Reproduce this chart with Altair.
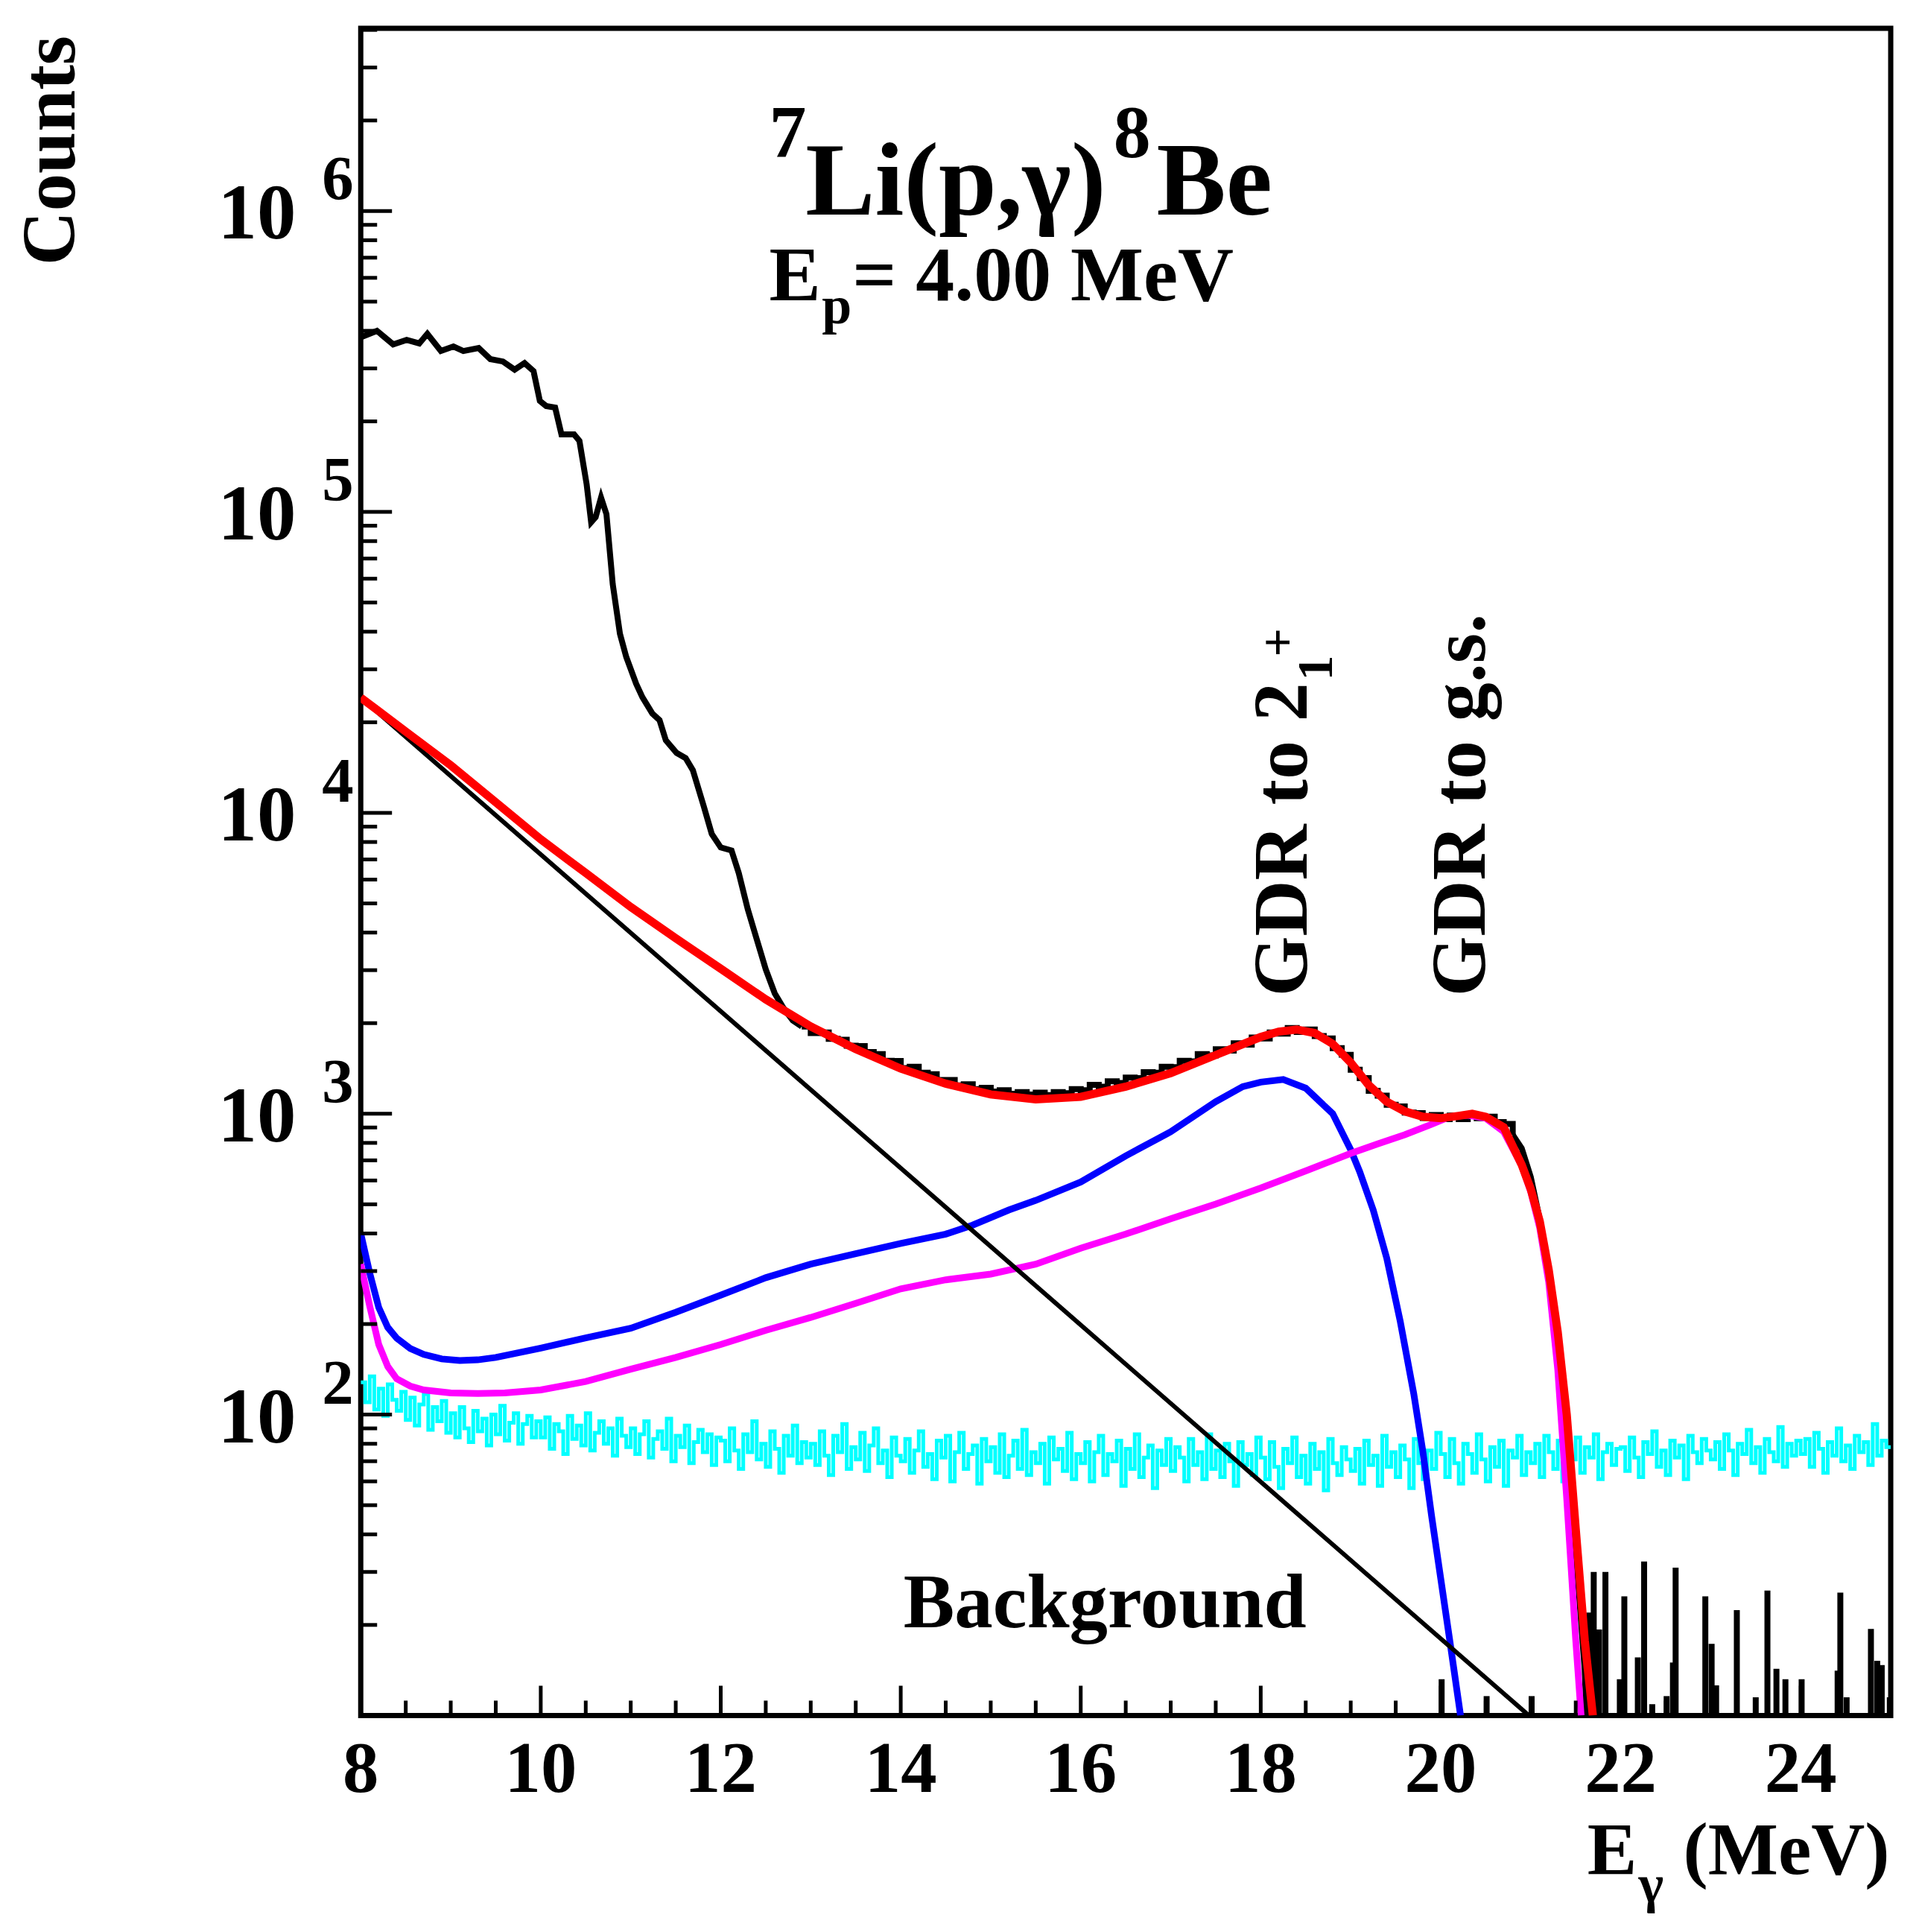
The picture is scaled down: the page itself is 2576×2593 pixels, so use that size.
import altair as alt
import pandas as pd

FONT = "Liberation Serif"

# ---------------- data (E in MeV) ----------------
# measured 7Li(p,g)8Be spectrum (black), log10(counts): steep low-energy part
spectrum_low = [
    (8.00, 5.59), (8.03, 5.584), (8.18, 5.602), (8.36, 5.557), (8.51, 5.572), (8.65, 5.56),
    (8.74, 5.592), (8.89, 5.535), (9.03, 5.55), (9.14, 5.535), (9.31, 5.545), (9.44, 5.508),
    (9.58, 5.50), (9.71, 5.473), (9.82, 5.495), (9.92, 5.468), (9.99, 5.369), (10.06, 5.352),
    (10.16, 5.347), (10.23, 5.258), (10.37, 5.258), (10.43, 5.236), (10.51, 5.092), (10.56, 4.966),
    (10.61, 4.983), (10.67, 5.048), (10.73, 4.993), (10.80, 4.76), (10.88, 4.595), (10.95, 4.518),
    (11.06, 4.429), (11.13, 4.384), (11.24, 4.33), (11.32, 4.308), (11.39, 4.241), (11.51, 4.199),
    (11.61, 4.182), (11.69, 4.142), (11.81, 4.023), (11.90, 3.93), (12.00, 3.885), (12.12, 3.875),
    (12.20, 3.80), (12.30, 3.68), (12.40, 3.58), (12.50, 3.48), (12.60, 3.40), (12.70, 3.35),
    (12.80, 3.31), (12.90, 3.29),
]
# plateau part, 0.1 MeV bins (left edges from 12.9 MeV), log10(counts)
plateau_E0, plateau_dE = 12.9, 0.1
plateau_log10 = [
    3.29, 3.268, 3.27, 3.249, 3.246, 3.226, 3.225, 3.205, 3.198, 3.176,
    3.175, 3.152, 3.156, 3.136, 3.131, 3.112, 3.112, 3.094, 3.098, 3.082,
    3.086, 3.074, 3.078, 3.066, 3.072, 3.064, 3.07, 3.062, 3.072, 3.068,
    3.082, 3.078, 3.096, 3.09, 3.108, 3.102, 3.12, 3.118, 3.138, 3.136,
    3.156, 3.155, 3.176, 3.174, 3.198, 3.194, 3.214, 3.21, 3.234, 3.23,
    3.253, 3.25, 3.27, 3.266, 3.285, 3.272, 3.28, 3.258, 3.25, 3.218,
    3.196, 3.146, 3.118, 3.076, 3.06, 3.03, 3.024, 3.004, 3.002, 2.986,
    2.996, 2.982, 2.994, 2.982, 2.997, 2.985, 2.99, 2.972, 2.966,
]
# falling edge, log10(counts)
spectrum_edge = [
    (20.8, 2.93), (20.9, 2.885), (21.0, 2.79), (21.1, 2.65), (21.2, 2.46), (21.3, 2.23),
    (21.4, 1.95), (21.5, 1.55), (21.6, 1.15), (21.62, 1.0),
]

# sparse high-energy bins of the spectrum (counts)
tail_E = [20.01, 20.51, 21.01, 21.65, 21.70, 21.76, 21.83, 21.99, 22.04, 22.19, 22.26, 22.35,
          22.51, 22.58, 22.61, 22.94, 23.01, 23.06, 23.29, 23.50, 23.63, 23.73, 23.83, 24.01,
          24.41, 24.44, 24.51, 24.78, 24.85, 24.90, 24.99]
tail_counts = [13.2, 11.6, 11.6, 22, 30, 19.3, 30, 13.2, 24.9, 15.6, 32.5, 10.9,
               11.6, 15, 31, 24.9, 17.3, 12.6, 22.4, 11.5, 26, 14.3, 13.2, 13.2,
               14.1, 25.6, 11.5, 19.4, 15.2, 14.7, 11.5]

# total fit (red), log10(counts)
fit_total = [
    (8.0, 4.383), (8.5, 4.27), (9.0, 4.158), (9.5, 4.035), (10.0, 3.912), (10.5, 3.80),
    (11.0, 3.687), (11.5, 3.583), (12.0, 3.482), (12.5, 3.38), (13.0, 3.29), (13.5, 3.215),
    (14.0, 3.15), (14.5, 3.10), (15.0, 3.064), (15.5, 3.048), (16.0, 3.056), (16.5, 3.09),
    (17.0, 3.135), (17.5, 3.195), (18.0, 3.255), (18.2, 3.273), (18.4, 3.28), (18.6, 3.268),
    (18.8, 3.232), (19.0, 3.17), (19.2, 3.095), (19.4, 3.04), (19.6, 3.008), (19.8, 2.99),
    (20.0, 2.985), (20.2, 2.993), (20.35, 3.0), (20.5, 2.99), (20.7, 2.955), (20.9, 2.83),
    (21.0, 2.75), (21.1, 2.643), (21.2, 2.48), (21.3, 2.274), (21.4, 2.0), (21.5, 1.62),
    (21.6, 1.25), (21.69, 1.0),
]

# GDR to 2_1^+ component (blue), log10(counts)
gdr_21 = [
    (8.0, 2.602), (8.1, 2.47), (8.2, 2.356), (8.3, 2.29), (8.4, 2.254), (8.55, 2.22),
    (8.7, 2.20), (8.9, 2.185), (9.1, 2.18), (9.3, 2.182), (9.5, 2.19), (10.0, 2.221),
    (10.5, 2.255), (11.0, 2.287), (11.5, 2.34), (12.0, 2.397), (12.5, 2.455), (13.0, 2.50),
    (13.5, 2.535), (14.0, 2.569), (14.5, 2.60), (14.8, 2.63), (15.2, 2.68), (15.5, 2.712),
    (16.0, 2.773), (16.5, 2.86), (17.0, 2.94), (17.5, 3.04), (17.8, 3.09), (18.0, 3.105),
    (18.25, 3.114), (18.5, 3.085), (18.8, 3.0), (19.0, 2.88), (19.1, 2.807), (19.25, 2.68),
    (19.4, 2.52), (19.55, 2.31), (19.7, 2.07), (19.8, 1.88), (19.9, 1.66), (20.0, 1.455),
    (20.1, 1.25), (20.22, 1.0),
]

# GDR to g.s. component (magenta), log10(counts)
gdr_gs = [
    (8.0, 2.50), (8.1, 2.36), (8.2, 2.233), (8.3, 2.16), (8.4, 2.119), (8.55, 2.095),
    (8.7, 2.082), (9.0, 2.072), (9.3, 2.07), (9.6, 2.072), (10.0, 2.082), (10.5, 2.11),
    (11.0, 2.151), (11.5, 2.19), (12.0, 2.233), (12.5, 2.28), (13.0, 2.323), (13.5, 2.37),
    (14.0, 2.418), (14.5, 2.448), (15.0, 2.467), (15.5, 2.50), (16.0, 2.553), (16.5, 2.60),
    (17.0, 2.651), (17.5, 2.70), (18.0, 2.753), (18.5, 2.81), (19.0, 2.868), (19.3, 2.90),
    (19.6, 2.93), (19.9, 2.965), (20.1, 2.99), (20.3, 2.995), (20.5, 2.985), (20.7, 2.94),
    (20.9, 2.827), (21.0, 2.74), (21.1, 2.62), (21.2, 2.44), (21.3, 2.15), (21.4, 1.72),
    (21.5, 1.25), (21.56, 1.0),
]

# exponential background (black straight line), counts at its end points
expbg_E = [8.0, 20.98]
expbg_counts = [24150, 10]

# measured room background (cyan), 0.05 MeV bins from 8 to 25 MeV
cyan_E0, cyan_dE = 8.0, 0.05
cyan_counts = [
    128, 110, 134, 104, 122, 99, 126, 112, 103, 119, 96, 114, 92, 108, 117, 89, 106, 95, 111, 87,
    101, 84, 106, 90, 81, 103, 88, 97, 79, 100, 86, 107, 82, 94, 101, 80, 93, 99, 84, 95,
    84, 98, 77, 93, 88, 74, 99, 83, 92, 79, 101, 76, 87, 95, 80, 90, 73, 97, 85, 78,
    90, 74, 86, 95, 72, 83, 88, 77, 97, 70, 85, 78, 92, 69, 81, 89, 75, 86, 68, 84,
    82, 70, 90, 76, 66, 86, 75, 95, 71, 80, 67, 88, 77, 64, 85, 73, 92, 69, 81, 72,
    80, 68, 88, 73, 63, 85, 75, 93, 66, 78, 71, 87, 65, 79, 90, 69, 76, 62, 84, 73,
    70, 83, 64, 76, 88, 67, 74, 61, 82, 72, 85, 60, 75, 87, 66, 74, 79, 59, 83, 70,
    78, 64, 86, 62, 73, 82, 66, 89, 63, 75, 69, 80, 59, 84, 71, 77, 65, 87, 61, 74,
    69, 81, 60, 75, 85, 63, 74, 70, 82, 58, 77, 66, 86, 62, 72, 79, 57, 76, 68, 83,
    65, 78, 72, 60, 83, 68, 75, 61, 86, 66, 76, 62, 80, 70, 58, 81, 68, 74, 63, 84,
    72, 61, 81, 67, 57, 77, 69, 84, 62, 73, 59, 80, 66, 75, 56, 83, 69, 63, 78, 71,
    65, 77, 59, 82, 68, 73, 58, 85, 67, 75, 62, 79, 71, 57, 83, 69, 61, 76, 66, 87,
    74, 62, 83, 69, 59, 80, 74, 64, 86, 71, 60, 78, 67, 82, 58, 76, 72, 85, 63, 75,
    69, 80, 62, 85, 75, 66, 82, 60, 77, 71, 84, 64, 78, 72, 86, 61, 75, 80, 68, 77,
    78, 65, 84, 72, 62, 81, 74, 88, 67, 76, 63, 82, 72, 79, 61, 85, 75, 69, 83, 76,
    71, 81, 66, 86, 76, 63, 80, 74, 89, 69, 78, 64, 83, 75, 70, 91, 67, 80, 73, 82,
    74, 83, 67, 87, 77, 64, 81, 73, 90, 70, 79, 66, 85, 75, 81, 68, 93, 73, 82, 78,
]

# axis ticks / labels
x_major = [8, 10, 12, 14, 16, 18, 20, 22, 24]
x_tick_labels = ["8", "10", "12", "14", "16", "18", "20", "22", "24"]
y_major = [1e2, 1e3, 1e4, 1e5, 1e6]
y_exponents = ["2", "3", "4", "5", "6"]

# ---------------- layout ----------------
W, H = 2057, 2268
XMIN, XMAX = 8, 25
YMIN, YMAX = 10, 4.05e6
xs = alt.Scale(domain=[XMIN, XMAX], nice=False, zero=False)
ys = alt.Scale(type="log", domain=[YMIN, YMAX], nice=False)


def curve_df(points):
    return pd.DataFrame({"E": [p[0] for p in points], "c": [10 ** p[1] for p in points]})


def line(df, color, width, interp="linear"):
    return alt.Chart(df).mark_line(color=color, strokeWidth=width, clip=True,
                                   interpolate=interp).encode(
        x=alt.X("E:Q", scale=xs, axis=None),
        y=alt.Y("c:Q", scale=ys, axis=None),
    )


def ptext(txt, x, y, size, align="left", angle=0):
    return alt.Chart(pd.DataFrame({"t": [txt]})).mark_text(
        font=FONT, fontWeight="bold", fontSize=size, align=align,
        baseline="alphabetic", angle=angle, color="black").encode(
        x=alt.value(x), y=alt.value(y), text="t:N")


def dtext(txt, E, c, size, align="left", angle=0):
    df = pd.DataFrame({"E": [E], "c": [c], "t": [txt]})
    return alt.Chart(df).mark_text(
        font=FONT, fontWeight="bold", fontSize=size, align=align,
        baseline="alphabetic", angle=angle, color="black").encode(
        x=alt.X("E:Q", scale=xs, axis=None), y=alt.Y("c:Q", scale=ys, axis=None), text="t:N")


# cyan histogram (step)
cyan_edges = [cyan_E0 + i * cyan_dE for i in range(len(cyan_counts))] + [XMAX]
cyan_df = pd.DataFrame({"E": cyan_edges, "c": cyan_counts + [cyan_counts[-1]]})

# plateau histogram (step)
plat_edges = [round(plateau_E0 + i * plateau_dE, 3) for i in range(len(plateau_log10))]
plat_edges.append(spectrum_edge[0][0])
plat_vals = plateau_log10 + [spectrum_edge[0][1]]
plat_df = pd.DataFrame({"E": plat_edges, "c": [10 ** v for v in plat_vals]})

low_df = curve_df(spectrum_low)
edge_df = curve_df(spectrum_edge)
fit_df = curve_df(fit_total)
blue_df = curve_df(gdr_21)
mag_df = curve_df(gdr_gs)
exp_df = pd.DataFrame({"E": expbg_E, "c": expbg_counts})
tail_df = pd.DataFrame({"E": tail_E, "c": tail_counts})

tail = alt.Chart(tail_df).mark_rule(color="black", strokeWidth=8, clip=True).encode(
    x=alt.X("E:Q", scale=xs, axis=None),
    y=alt.Y("c:Q", scale=ys, axis=None),
    y2=alt.datum(YMIN),
)

# ticks
y_minor = [m * 10 ** k for k in range(1, 7) for m in range(2, 10) if m * 10 ** k <= YMAX]
x_minor = [XMIN + 0.5 * i for i in range(int((XMAX - XMIN) / 0.5) + 1)
           if (XMIN + 0.5 * i) not in x_major]

ytick_major = alt.Chart(pd.DataFrame({"v": y_major})).mark_rule(color="black", strokeWidth=5).encode(
    y=alt.Y("v:Q", scale=ys, axis=None), x=alt.value(0), x2=alt.value(42))
ytick_minor = alt.Chart(pd.DataFrame({"v": y_minor})).mark_rule(color="black", strokeWidth=5).encode(
    y=alt.Y("v:Q", scale=ys, axis=None), x=alt.value(0), x2=alt.value(22))
xtick_major = alt.Chart(pd.DataFrame({"v": x_major})).mark_rule(color="black", strokeWidth=5).encode(
    x=alt.X("v:Q", scale=xs, axis=None), y=alt.value(H), y2=alt.value(H - 40))
xtick_minor = alt.Chart(pd.DataFrame({"v": x_minor})).mark_rule(color="black", strokeWidth=5).encode(
    x=alt.X("v:Q", scale=xs, axis=None), y=alt.value(H), y2=alt.value(H - 20))

xlab = alt.Chart(pd.DataFrame({"v": x_major, "t": x_tick_labels})).mark_text(
    font=FONT, fontWeight="bold", fontSize=97, align="center", baseline="alphabetic").encode(
    x=alt.X("v:Q", scale=xs, axis=None), y=alt.value(H + 103), text="t:N")
ylab10 = alt.Chart(pd.DataFrame({"v": y_major, "t": ["10"] * len(y_major)})).mark_text(
    font=FONT, fontWeight="bold", fontSize=105, align="right", baseline="alphabetic", dy=37).encode(
    y=alt.Y("v:Q", scale=ys, axis=None), x=alt.value(-87), text="t:N")
ylabexp = alt.Chart(pd.DataFrame({"v": y_major, "t": y_exponents})).mark_text(
    font=FONT, fontWeight="bold", fontSize=85, align="left", baseline="alphabetic", dy=-15).encode(
    y=alt.Y("v:Q", scale=ys, axis=None), x=alt.value(-52), text="t:N")

layers = [
    line(low_df, "black", 8),
    line(plat_df, "black", 8, "step-after"),
    line(edge_df, "black", 8),
    tail,
    line(cyan_df, "#00ffff", 5, "step-after"),
    line(blue_df, "#0000ff", 9),
    line(mag_df, "#ff00ff", 9),
    line(exp_df, "black", 6),
    line(fit_df, "#ff0000", 11),
    ytick_major, ytick_minor, xtick_major, xtick_minor,
    xlab, ylab10, ylabexp,
    # title
    ptext("7", 549, 172, 100),
    ptext("Li(p,\u03b3)", 598, 250, 140),
    ptext("8", 1012, 172, 100),
    ptext("Be", 1070, 250, 140),
    ptext("E", 549, 366, 104),
    ptext("p", 620, 397, 72),
    ptext("= 4.00 MeV", 661, 366, 104),
    # axis titles
    ptext("Counts", -385, 10, 101, align="right", angle=270),
    ptext("E", 1649, 2481, 100),
    ptext("\u03b3", 1718, 2519, 72),
    ptext("(MeV)", 1778, 2481, 100),
    # annotations
    dtext("GDR to 2", 18.51, 2455, 104, angle=270),
    dtext("1", 18.79, 27500, 68, angle=270),
    dtext("+", 18.38, 33000, 68, angle=270),
    dtext("GDR to g.s.", 20.49, 2455, 104, angle=270),
    dtext("Background", 14.03, 19.7, 103),
]

chart = alt.layer(*layers).properties(
    width=W, height=H,
    padding={"left": 477, "top": 28, "right": 30, "bottom": 285},
    autosize=alt.AutoSizeParams(type="none"),
    background="white",
).configure_view(stroke="black", strokeWidth=7)

chart.save("out.html", embed_options={"renderer": "svg", "actions": False})
